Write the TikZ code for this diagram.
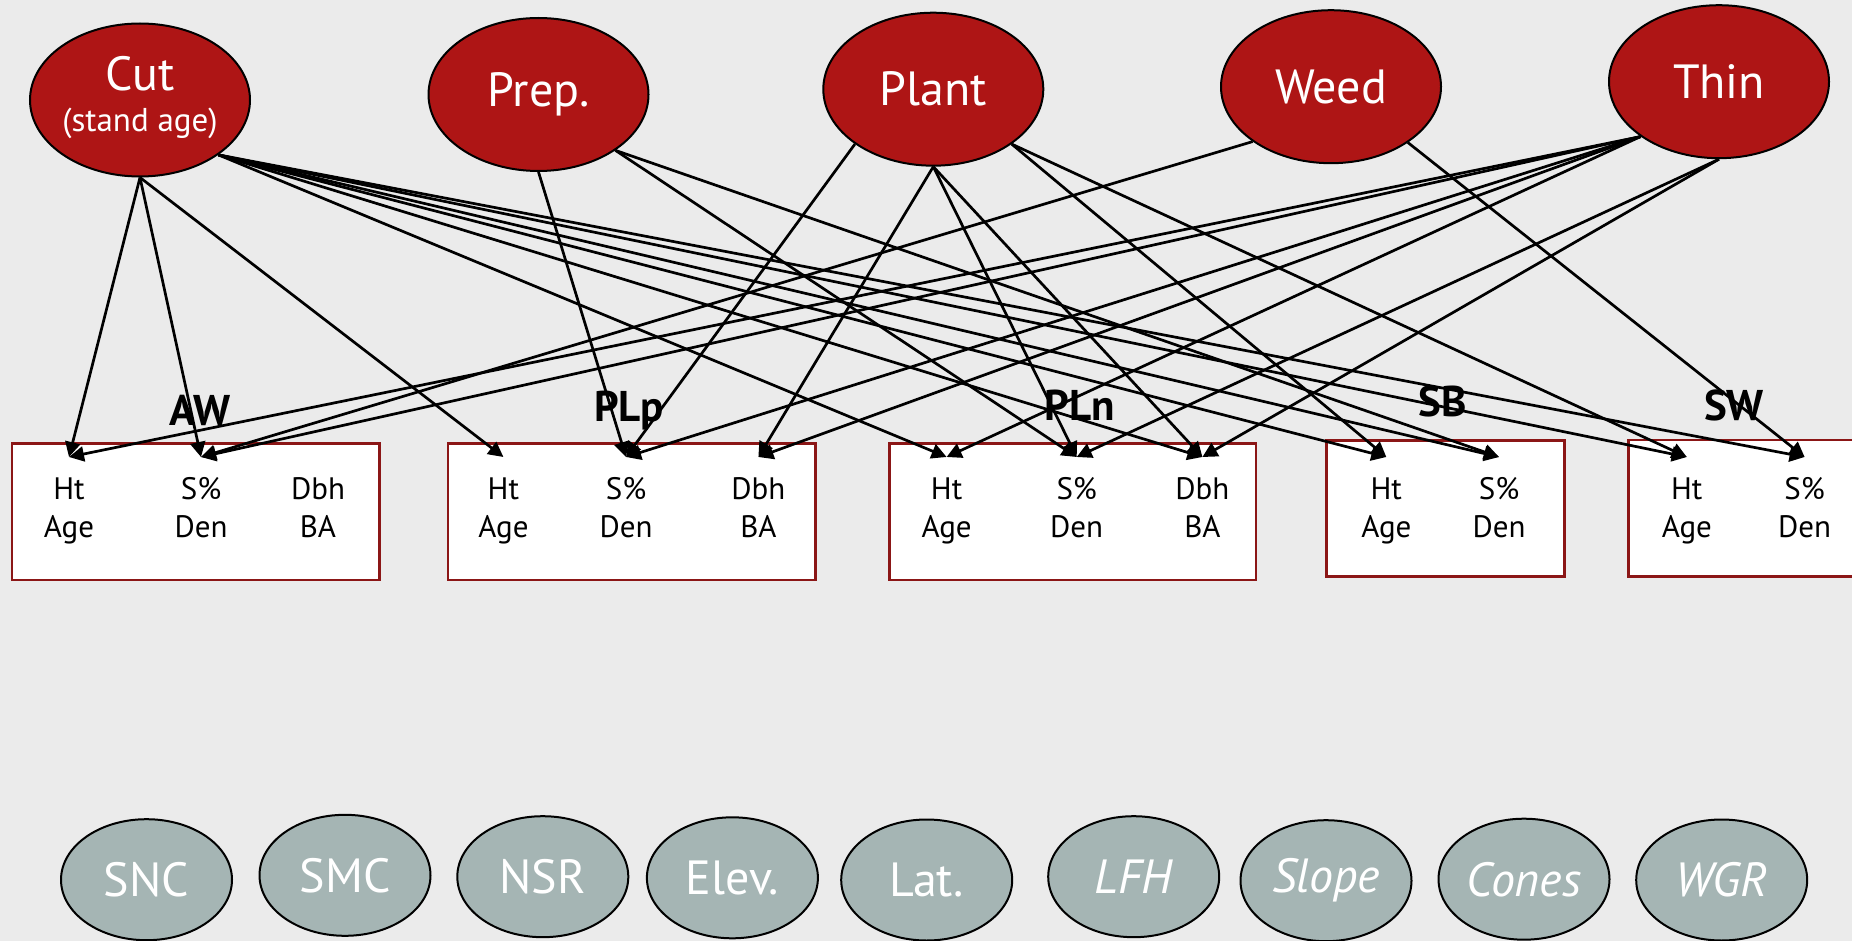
\documentclass[tikz,border=0pt]{standalone}
\usepackage{fontspec}
\setmainfont{PT Sans}
\usetikzlibrary{shapes.geometric, arrows.meta}

\definecolor{bgc}{RGB}{235,235,235}
\definecolor{treatc}{RGB}{174,21,21}
\definecolor{sitec}{RGB}{165,181,180}
\definecolor{boxredc}{RGB}{139,22,22}

\begin{document}
\begin{tikzpicture}[x=0.5pt, y=-0.5pt,
  treat/.style={ellipse, draw=black, line width=1pt, fill=treatc, text=white,
    minimum width=110pt, minimum height=76.5pt, inner sep=0pt,
    font=\fontsize{24}{28}\selectfont},
  site/.style={ellipse, draw=black, line width=1pt, fill=sitec, text=white,
    minimum width=85.5pt, minimum height=60.5pt, inner sep=0pt,
    font=\fontsize{24}{28}\selectfont},
  spbox/.style={rectangle, draw=boxredc, line width=1.3pt, fill=white, inner sep=0pt},
  sptitle/.style={anchor=base, inner sep=0pt, font=\bfseries\fontsize{21.5}{25}\selectfont},
  var/.style={anchor=north, align=center, inner xsep=0pt, inner ysep=10pt,
    font=\fontsize{15.5}{19}\selectfont},
  arr/.style={-{Triangle[length=7.5pt,width=7.5pt]}, line width=1.35pt, black}
]
\useasboundingbox (0,0) rectangle (1852,941);
\clip (0,0) rectangle (1852,941);
\fill[bgc] (0,0) rectangle (1852,941);

% species boxes
\node[spbox, minimum width=183.85pt, minimum height=68.35pt] (awbox) at (195.75,511.65) {};
\node[spbox, minimum width=183.85pt, minimum height=68.35pt] (plpbox) at (631.85,511.65) {};
\node[spbox, minimum width=183.05pt, minimum height=68.35pt] (plnbox) at (1072.75,511.65) {};
\node[spbox, minimum width=119pt, minimum height=68pt] (sbbox) at (1445.2,508.7) {};
\node[spbox, minimum width=119pt, minimum height=68.35pt] (swbox) at (1747.7,508.35) {};

% species titles
\node[sptitle] (awlab) at (199.7,425) {AW};
\node[sptitle] (plplab) at (629,421.7) {PLp};
\node[sptitle] (plnlab) at (1079.6,420) {PLn};
\node[sptitle] (sblab) at (1442.7,416.7) {SB};
\node[sptitle] (swlab) at (1734,420) {SW};

% variables
\node[var] (awht) at (69,457) {Ht\\Age};
\node[var] (aws) at (201,457) {S\%\\Den};
\node[var] (awd) at (318,457) {Dbh\\BA};
\node[var] (plpht) at (503.4,457) {Ht\\Age};
\node[var] (plps) at (626,457) {S\%\\Den};
\node[var] (plpd) at (758.4,457) {Dbh\\BA};
\node[var] (plnht) at (946.6,457) {Ht\\Age};
\node[var] (plns) at (1076.7,457) {S\%\\Den};
\node[var] (plnd) at (1202.4,457) {Dbh\\BA};
\node[var] (sbht) at (1386.3,457) {Ht\\Age};
\node[var] (sbs) at (1499,457) {S\%\\Den};
\node[var] (swht) at (1686.8,457) {Ht\\Age};
\node[var] (sws) at (1804.6,457) {S\%\\Den};

% treatments
\node[treat, align=center] (cut) at (140,100)
  {Cut\\[-7.5pt]{\fontsize{16.5}{18}\selectfont\makebox[70pt]{(stand age)}\rule[-6pt]{0pt}{0pt}}};
\node[treat] (prep) at (538.5,94.5) {Prep.};
\node[treat] (plant) at (933.3,89.2) {Plant};
\node[treat] (weed) at (1331,86.7) {Weed};
\node[treat] (thin) at (1719,81.7) {Thin};

% site variables
\node[site] (snc) at (146.5,879.7) {SNC};
\node[site] (smc) at (345,875.3) {SMC};
\node[site] (nsr) at (542.8,876.7) {NSR};
\node[site] (elev) at (732.4,877.8) {Elev.};
\node[site] (lat) at (926.7,880) {Lat.};
\node[site] (lfh) at (1133.7,876.7) {\itshape LFH};
\node[site] (slope) at (1326,880.7) {\itshape Slope};
\node[site] (cones) at (1524,879.2) {\itshape Cones};
\node[site] (wgr) at (1721.7,880) {\itshape WGR};

% connectors
\foreach \t in {awht,aws,plpht} \draw[arr] (cut.-90) -- (\t.north);
\foreach \t in {plnht,plnd,sbht,sbs,swht,sws} \draw[arr] (cut.-35) -- (\t.north);
\draw[arr] (prep.-90) -- (plps.north);
\foreach \t in {plns,sbs} \draw[arr] (prep.-36) -- (\t.north);
\draw[arr] (plant.-145) -- (plps.north);
\foreach \t in {plpd,plns,plnd} \draw[arr] (plant.-90) -- (\t.north);
\foreach \t in {sbht,swht} \draw[arr] (plant.-35) -- (\t.north);
\draw[arr] (weed.-145) -- (aws.north);
\draw[arr] (weed.-36) -- (sws.north);
\foreach \t in {awht,aws,plps,plpd,plnht} \draw[arr] (thin.-145) -- (\t.north);
\foreach \t in {plns,plnd} \draw[arr] (thin.-90) -- (\t.north);
\end{tikzpicture}
\end{document}
